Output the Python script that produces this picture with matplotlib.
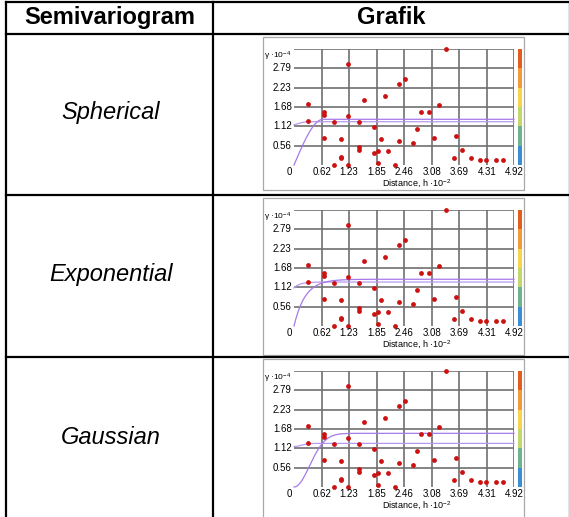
import numpy as np
import matplotlib
matplotlib.use("Agg")
import matplotlib.pyplot as plt
from matplotlib.patches import Rectangle

plt.rcParams['font.family'] = ['Liberation Sans', 'DejaVu Sans']
plt.rcParams['mathtext.default'] = 'regular'

# ---------------- data ----------------
header = ["Semivariogram", "Grafik"]
models = ["Spherical", "Exponential", "Gaussian"]

x_ticks = [0.62, 1.23, 1.85, 2.46, 3.08, 3.69, 4.31, 4.92]
x_ticklabels = ["0.62", "1.23", "1.85", "2.46", "3.08", "3.69", "4.31", "4.92"]
y_ticks = [0.56, 1.12, 1.68, 2.23, 2.79]
y_ticklabels = ["0.56", "1.12", "1.68", "2.23", "2.79"]
x_max = 4.92
y_max = 3.35

# empirical semivariogram points (distance h*10^-2, gamma*10^-4)
pts_x = [0.31, 0.31, 0.67, 0.67, 0.67, 0.89, 0.89, 1.05, 1.05, 1.05,
         1.20, 1.20, 1.20, 1.46, 1.46, 1.46, 1.57, 1.78, 1.78, 1.87,
         1.87, 1.94, 2.04, 2.11, 2.26, 2.34, 2.34, 2.49, 2.67, 2.74,
         2.85, 3.02, 3.13, 3.24, 3.39, 3.58, 3.63, 3.76, 3.96, 4.16,
         4.30, 4.52, 4.67]
pts_y = [1.75, 1.26, 1.52, 1.44, 0.78, 1.25, 0.01, 0.74, 0.23, 0.19,
         2.92, 1.42, 0.01, 1.25, 0.51, 0.42, 1.88, 1.10, 0.36, 0.41,
         0.07, 0.74, 2.00, 0.41, 0.01, 2.34, 0.69, 2.49, 0.64, 1.04,
         1.52, 1.52, 0.78, 1.73, 3.36, 0.20, 0.83, 0.44, 0.20, 0.13,
         0.13, 0.13, 0.13]

# fitted model parameters: (nugget, sill, range) for the two curves per model
model_params = {
    "Spherical":   [(1.16, 1.25, 0.33), (0.0, 1.32, 0.65)],
    "Exponential": [(1.10, 1.27, 0.40), (0.0, 1.35, 0.75)],
    "Gaussian":    [(1.17, 1.26, 0.40), (0.0, 1.55, 0.85)],
}

# colour scale on the right of each panel (bottom -> top)
cbar_colors = ["#3a8fd4", "#6db38e", "#c3d86c", "#f6d44c", "#f29a3c", "#e45d1c"]

point_color = "#cc1111"
curve_colors = ["#b89af0", "#a57ae8"]
grid_color = "#707070"


def model_curve(kind, h, nug, sill, rng):
    h = np.asarray(h)
    c = sill - nug
    if kind == "Spherical":
        r = np.clip(h / rng, 0, 1)
        return nug + c * (1.5 * r - 0.5 * r ** 3)
    if kind == "Exponential":
        return nug + c * (1 - np.exp(-3 * h / rng))
    return nug + c * (1 - np.exp(-3 * h ** 2 / rng ** 2))


# ---------------- figure ----------------
W, H = 569, 517
fig = plt.figure(figsize=(W / 100, H / 100), dpi=100)

bg = fig.add_axes([0, 0, 1, 1])
bg.set_xlim(0, W)
bg.set_ylim(H, 0)
bg.axis("off")

# table grid
lw_tab = 1.6
col_x = [6.5, 213, 570]
row_y = [1.5, 33.5, 194.5, 357, 530]
for x in col_x:
    bg.plot([x, x], [row_y[0], row_y[-1]], color="black", lw=lw_tab, solid_capstyle="projecting")
for y in row_y:
    bg.plot([col_x[0], col_x[-1]], [y, y], color="black", lw=lw_tab, solid_capstyle="projecting")

bg.text((col_x[0] + col_x[1]) / 2, 17.5, header[0], ha="center", va="center",
        fontsize=17, fontweight="bold")
bg.text((col_x[1] + col_x[2]) / 2, 17.5, header[1], ha="center", va="center",
        fontsize=17, fontweight="bold")
row_centers = [113, 275, 437]
for name, yc in zip(models, row_centers):
    bg.text(111, yc, name, ha="center", va="center", fontsize=17, style="italic")


def px_axes(left, top, w, h):
    return fig.add_axes([left / W, 1 - (top + h) / H, w / W, h / H])


panel_tops = [37, 198, 359]
panel_heights = [153, 157, 170]
panel_left, panel_w = 263, 261

for name, ptop, ph in zip(models, panel_tops, panel_heights):
    # panel frame
    bg.add_patch(Rectangle((panel_left, ptop), panel_w, ph, fill=False,
                           edgecolor="#a8a8a8", lw=0.9))
    pl, pt, pw, phh = panel_left + 31, ptop + 12, 220, 116
    ax = px_axes(pl, pt, pw, phh)
    ax.set_xlim(0, x_max)
    ax.set_ylim(0, y_max)
    for s in ax.spines.values():
        s.set_visible(False)
    ax.set_xticks([])
    ax.set_yticks([])
    # grid
    for xv in x_ticks:
        ax.axvline(xv, color=grid_color, lw=1.2, zorder=1)
    for yv in y_ticks + [y_max]:
        ax.axhline(yv, color=grid_color, lw=1.2, zorder=1)
    # model curves
    h = np.linspace(0, x_max, 400)
    for (nug, sill, rng), col in zip(model_params[name], curve_colors):
        ax.plot(h, model_curve(name, h, nug, sill, rng), color=col, lw=0.9,
                zorder=2, clip_on=False)
    # points
    ax.scatter(pts_x, pts_y, s=12, color=point_color, zorder=3, clip_on=False,
               linewidths=0)
    # tick labels
    for xv, lab in zip(x_ticks, x_ticklabels):
        ax.text(xv, -0.2, lab, ha="center", va="center", fontsize=7)
    ax.text(-0.1, -0.2, "0", ha="center", va="center", fontsize=7)
    for yv, lab in zip(y_ticks, y_ticklabels):
        ax.text(-0.05, yv, lab, ha="right", va="center", fontsize=7)
    ax.text(-0.68, y_max - 0.02, r"γ ·10$^{-4}$", ha="left", va="top", fontsize=6)
    ax.text(2.75, -0.55, r"Distance, h ·10$^{-2}$", ha="center", va="center",
            fontsize=6.5)
    # colour bar
    cax = px_axes(pl + pw + 3.5, pt, 4.5, phh)
    cax.set_xlim(0, 1)
    cax.set_ylim(0, y_max)
    edges = [0] + y_ticks + [y_max]
    for i, c in enumerate(cbar_colors):
        cax.add_patch(Rectangle((0, edges[i]), 1, edges[i + 1] - edges[i],
                                color=c, lw=0))
    cax.axis("off")

fig.savefig("out.png", dpi=100)
